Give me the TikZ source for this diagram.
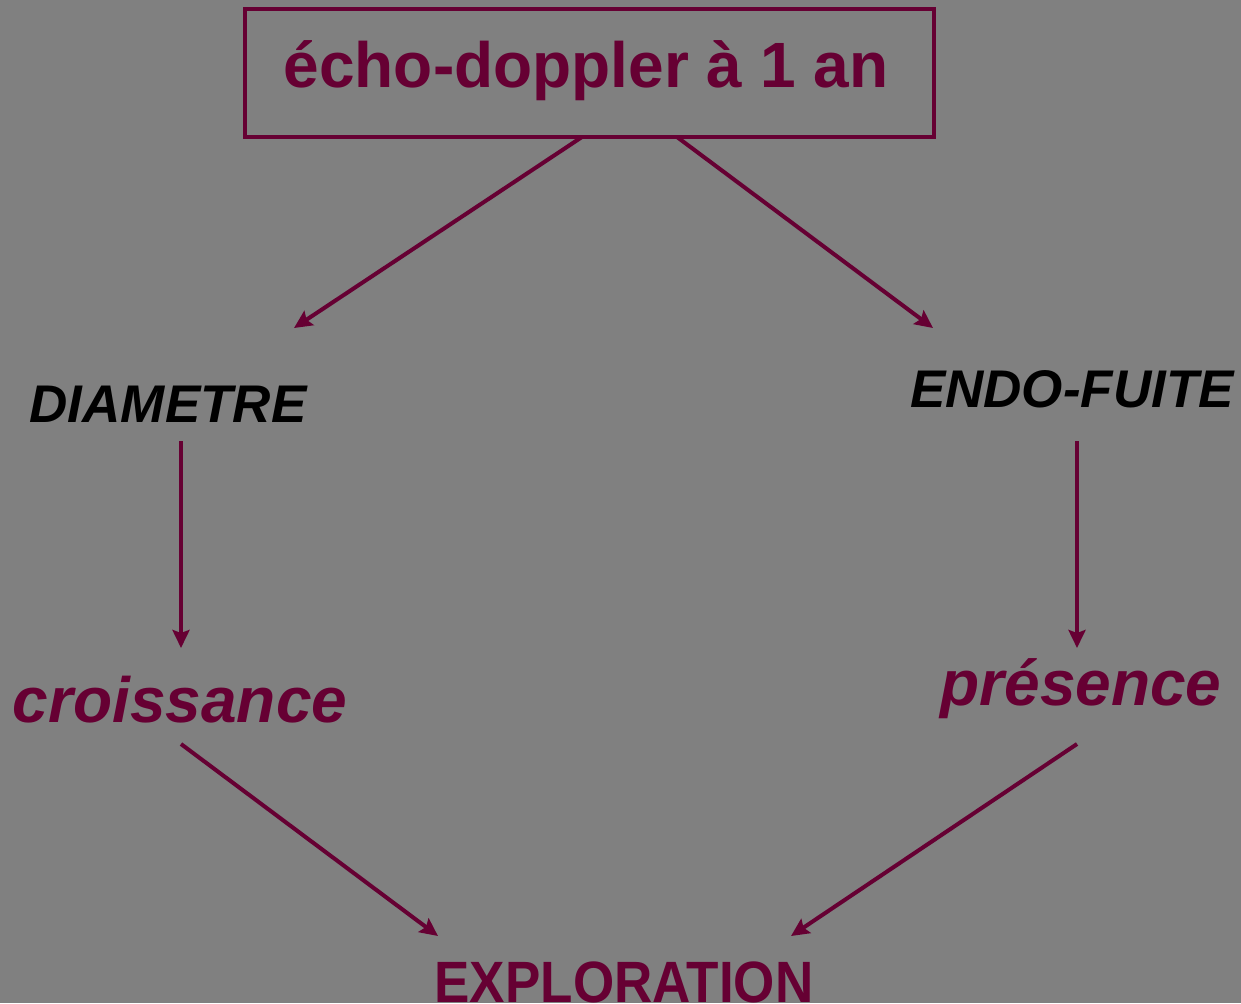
\documentclass[tikz,border=0pt]{standalone}
\usepackage{fontspec}
\setmainfont{Liberation Sans}
\usetikzlibrary{arrows.meta}
\begin{document}
\definecolor{bgrey}{HTML}{808080}
\definecolor{wine}{HTML}{660033}
\tikzset{
  flow/.style={draw=wine, line width=4pt, -{Stealth[length=18pt,width=17pt,inset=3pt]}},
  title/.style={font=\bfseries\fontsize{64}{70}\selectfont, text=wine, inner sep=0pt, anchor=base},
  branch/.style={font=\bfseries\itshape\fontsize{53}{60}\selectfont, text=black, inner sep=0pt, anchor=base},
  outcome/.style={font=\bfseries\itshape\fontsize{64}{70}\selectfont, text=wine, inner sep=0pt, anchor=base},
  final/.style={font=\bfseries\fontsize{53}{58}\selectfont, text=wine, inner sep=0pt, anchor=base, yscale=1.1},
}
\begin{tikzpicture}[x=1pt, y=-1pt]
  \useasboundingbox[fill=bgrey] (0,0) rectangle (1241,1003);

  % header box
  \node[draw=wine, line width=3.5pt, minimum width=689pt, minimum height=128pt, inner sep=0pt] (box) at (589.5,73) {};
  \node[title] (head) at (586,88) {écho-doppler à 1 an};

  % two branches
  \node[branch] (diam) at (168,422) {DIAMETRE};
  \node[branch] (endo) at (1072,407) {ENDO-FUITE};

  % outcomes
  \node[outcome] (crois) at (180,722) {croissance};
  \node[outcome] (pres) at (1081,705) {présence};

  % conclusion
  \node[final] (explo) at (624,1002) {EXPLORATION};

  % connector ends
  \coordinate (boxL) at (582,137);
  \coordinate (boxR) at (677,137);
  \coordinate (diamIn) at (294,328);
  \coordinate (endoIn) at (933,328);
  \coordinate (diamOut) at (181,441);
  \coordinate (endoOut) at (1077,441);
  \coordinate (croisIn) at (181,648);
  \coordinate (presIn) at (1077,648);
  \coordinate (croisOut) at (181,744);
  \coordinate (presOut) at (1077,744);
  \coordinate (exploL) at (438,936);
  \coordinate (exploR) at (791,936);

  \draw[flow] (boxL) -- (diamIn);
  \draw[flow] (boxR) -- (endoIn);
  \draw[flow] (diamOut) -- (croisIn);
  \draw[flow] (endoOut) -- (presIn);
  \draw[flow] (croisOut) -- (exploL);
  \draw[flow] (presOut) -- (exploR);
\end{tikzpicture}
\end{document}
